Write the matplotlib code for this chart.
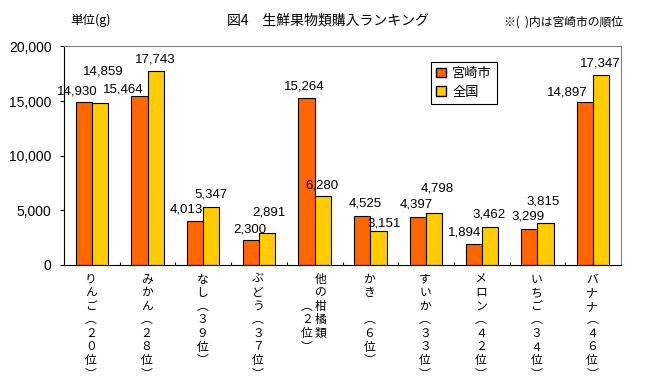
import numpy as np
import matplotlib
matplotlib.use("Agg")
import matplotlib.pyplot as plt
from matplotlib.patches import Patch

plt.rcParams['font.family'] = ['Liberation Sans', 'Noto Sans CJK JP', 'DejaVu Sans']
JP = ['Noto Sans CJK JP', 'DejaVu Sans']

# data
names = ['りんご', 'みかん', 'なし', 'ぶどう', '他の柑橘類', 'かき　', 'すいか', 'メロン', 'いちご', 'バナナ']
ranks = ['２０', '２８', '３９', '３７', '２', '６', '３３', '４２', '３４', '４６']
miyazaki = [14930, 15464, 4013, 2300, 15264, 4525, 4397, 1894, 3299, 14897]
zenkoku = [14859, 17743, 5347, 2891, 6280, 3151, 4798, 3462, 3815, 17347]
series_names = ['宮崎市', '全国']
yticks = [0, 5000, 10000, 15000, 20000]

# label nudges in pixels (dx, dy) from top centre of each bar
off_m = [(-7, -10), (-16, -7), (-8.5, -12), (-1, -10), (-2, -12),
         (3, -12), (-1.5, -12), (-9, -12), (-1.5, -12), (-18, -10)]
off_z = [(3.5, -31), (0, -12), (-0.5, -12), (1.5, -21), (-1, -11),
         (5.5, -7), (3.5, -24), (-1, -13), (-2, -22), (-0.5, -12)]

PX = 0.72  # points per pixel at dpi 100
c_m = '#FF6600'
c_z = '#FFCC00'

fig = plt.figure(figsize=(6.6, 3.92), dpi=100)
ax = fig.add_axes([64 / 660, 1 - 265 / 392, 557 / 660, 218.5 / 392])

x = np.arange(len(names))
w = 0.29
b1 = ax.bar(x - w / 2, miyazaki, w, color=c_m, edgecolor='black', linewidth=0.8, zorder=2)
b2 = ax.bar(x + w / 2, zenkoku, w, color=c_z, edgecolor='black', linewidth=0.8, zorder=2)

for bars, vals, offs in [(b1, miyazaki, off_m), (b2, zenkoku, off_z)]:
    for bar, v, (dx, dy) in zip(bars, vals, offs):
        ax.annotate(f'{v:,}', xy=(bar.get_x() + bar.get_width() / 2, v),
                    xytext=(dx * PX, -dy * PX), textcoords='offset points',
                    ha='center', va='center', fontsize=9.5, zorder=3)

ax.set_xlim(-0.5, len(names) - 0.5)
ax.set_ylim(0, 20000)
ax.set_yticks(yticks)
ax.set_yticklabels([f'{t:,}' for t in yticks], fontsize=10)
ax.tick_params(axis='y', direction='out', length=3, width=0.8, pad=6)
ax.set_xticks([])
ax.set_xticks(np.arange(len(names) - 1) + 0.5, minor=True)
ax.tick_params(axis='x', which='minor', direction='in', length=2, width=0.8)
ax.tick_params(axis='x', which='major', length=0)

for s in ['left', 'bottom']:
    ax.spines[s].set_color('black')
    ax.spines[s].set_linewidth(0.8)
for s in ['top', 'right']:
    ax.spines[s].set_color('#808080')
    ax.spines[s].set_linewidth(0.8)

# vertical category labels
row0 = 14
step = 13.6


def put_col(xi, chars, colx, start):
    for r, ch in enumerate(chars):
        ax.annotate(ch, xy=(xi, 0), xycoords=('data', 'axes fraction'),
                    xytext=(colx * PX, -(row0 + (start + r) * step) * PX),
                    textcoords='offset points', ha='center', va='center',
                    fontsize=8.5, family=JP)


for i, (nm, rk) in enumerate(zip(names, ranks)):
    rank_chars = ['︵'] + list(rk) + ['位', '︶']
    if len(nm) > 3:
        put_col(i, list(nm), 6, 0)
        put_col(i, rank_chars, -8, 2)
    else:
        put_col(i, list(nm) + rank_chars, -1, 0)

leg = ax.legend([Patch(facecolor=c_m, edgecolor='black'), Patch(facecolor=c_z, edgecolor='black')],
                series_names, loc='upper left', bbox_to_anchor=((431 - 64) / 557, (265 - 62) / 218.5),
                prop={'family': JP, 'size': 9.5}, fancybox=False, edgecolor='black',
                framealpha=1, handlelength=0.7, handleheight=0.7, handletextpad=0.5,
                borderpad=0.4, labelspacing=0.4, borderaxespad=0)
leg.get_frame().set_linewidth(0.8)

fig.text(328 / 660, 1 - 20 / 392, '図4　生鮮果物類購入ランキング', ha='center', va='center',
         fontsize=10, family=JP)
fig.text(70 / 660, 1 - 20 / 392, '単位(g)', ha='left', va='center', fontsize=9, family=JP)
fig.text(623 / 660, 1 - 22 / 392, '※(  )内は宮崎市の順位', ha='right', va='center',
         fontsize=8.5, family=JP)

fig.savefig('out.png', dpi=100, facecolor='white')
